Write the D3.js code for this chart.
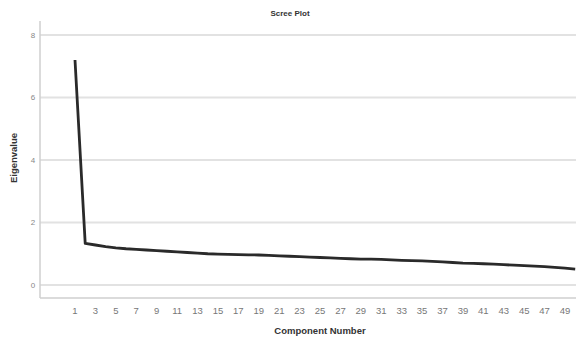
<!DOCTYPE html>
<html><head><meta charset="utf-8">
<script src="https://cdn.jsdelivr.net/npm/d3@7"></script>
<style>body{margin:0;background:#fff}svg{display:block}</style>
</head><body>
<svg id="c" width="576" height="338"></svg>
<script>
const components = d3.range(1, 51);
const eigenvalues = [7.20,1.33,1.28,1.23,1.19,1.16,1.14,1.12,1.10,1.08,1.06,1.04,1.02,1.00,0.99,0.98,0.97,0.965,0.96,0.945,0.93,0.92,0.91,0.895,0.88,0.865,0.85,0.84,0.83,0.825,0.82,0.805,0.79,0.78,0.77,0.755,0.74,0.72,0.70,0.69,0.68,0.665,0.65,0.635,0.62,0.605,0.59,0.565,0.54,0.51];
const yTicks = [0, 2, 4, 6, 8];
const xTicks = d3.range(1, 50, 2);
const title = "Scree Plot";
const xTitle = "Component Number";
const yTitle = "Eigenvalue";

const svg = d3.select("#c");
const x = d3.scaleLinear().domain([1, 49]).range([75, 565]);
const y = d3.scaleLinear().domain([0, 8]).range([285, 35]);

// gridlines
svg.append("g").selectAll("line").data(yTicks).join("line")
  .attr("x1", 40).attr("x2", 576).attr("y1", d => y(d)).attr("y2", d => y(d))
  .attr("stroke", "#e2e2e2").attr("stroke-width", 2);

// axes lines
svg.append("line").attr("x1", 40).attr("x2", 40).attr("y1", 21).attr("y2", 298)
  .attr("stroke", "#cfcfcf").attr("stroke-width", 1.5);
svg.append("line").attr("x1", 40).attr("x2", 576).attr("y1", 298).attr("y2", 298)
  .attr("stroke", "#cfcfcf").attr("stroke-width", 1.5);

// y tick labels
svg.append("g").selectAll("text").data(yTicks).join("text")
  .attr("x", 33).attr("y", d => y(d)).attr("dy", "0.35em")
  .attr("text-anchor", "middle").attr("font-family", "Arial, Liberation Sans, sans-serif")
  .attr("font-size", 8).attr("fill", "#888").text(d => d);

// x tick labels
svg.append("g").selectAll("text").data(xTicks).join("text")
  .attr("x", d => x(d)).attr("y", 314)
  .attr("text-anchor", "middle").attr("font-family", "Arial, Liberation Sans, sans-serif")
  .attr("font-size", 9.5).attr("fill", "#777").text(d => d);

// line
const line = d3.line().x((d, i) => x(components[i])).y(d => y(d));
svg.append("path").datum(eigenvalues).attr("d", line)
  .attr("fill", "none").attr("stroke", "#2a2a2a").attr("stroke-width", 2.8)
  .attr("stroke-linejoin", "round");

// titles
svg.append("text").attr("x", 290).attr("y", 16).attr("text-anchor", "middle")
  .attr("font-family", "Arial, Liberation Sans, sans-serif").attr("font-weight", "bold")
  .attr("font-size", 8).attr("fill", "#333").text(title);
svg.append("text").attr("x", 320).attr("y", 334).attr("text-anchor", "middle")
  .attr("font-family", "Arial, Liberation Sans, sans-serif").attr("font-weight", "bold")
  .attr("font-size", 9.5).attr("fill", "#333").text(xTitle);
svg.append("text").attr("transform", "translate(17,158) rotate(-90)").attr("text-anchor", "middle")
  .attr("font-family", "Arial, Liberation Sans, sans-serif").attr("font-weight", "bold")
  .attr("font-size", 9.5).attr("fill", "#333").text(yTitle);
</script>
</body></html>
